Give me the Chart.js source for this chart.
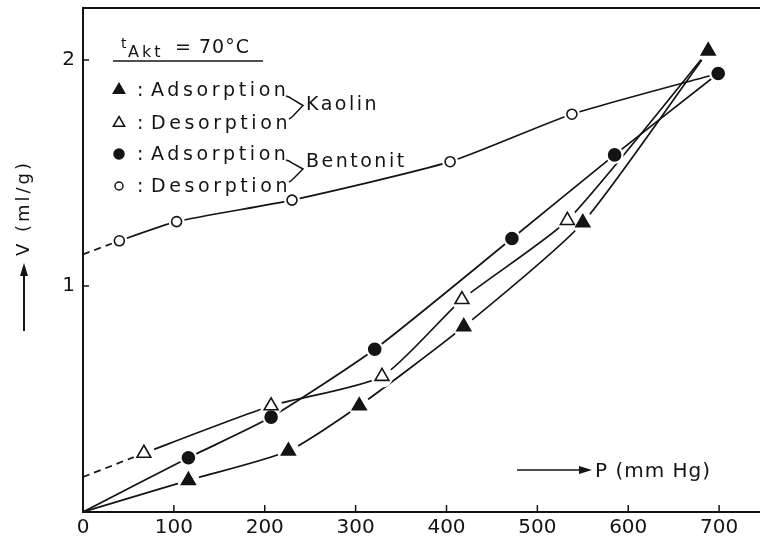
<!DOCTYPE html>
<html>
<head>
<meta charset="utf-8">
<script src="https://cdn.jsdelivr.net/npm/chart.js@4.4.0/dist/chart.umd.min.js"></script>
<style>
    html, body { margin: 0; padding: 0; background: #fff; }
    #wrap { width: 760px; height: 541px; position: relative; }
</style>
</head>
<body>
<div id="wrap"><canvas id="isoChart"></canvas></div>
<script>
// pressure P (mm Hg) and volume V (ml/g)
const kaolinAdsP = [0, 116, 226, 304, 419, 550, 688];
const kaolinAdsV = [0, 0.14, 0.27, 0.47, 0.82, 1.28, 2.04];
const kaolinDesP = [0, 67, 207, 329, 417, 533, 688];
const kaolinDesV = [0.155, 0.26, 0.47, 0.60, 0.94, 1.29, 2.04];
const bentAdsP = [0, 116, 207, 321, 472, 585, 699];
const bentAdsV = [0, 0.24, 0.42, 0.72, 1.21, 1.58, 1.94];
const bentDesP = [0, 40, 103, 230, 404, 538, 699];
const bentDesV = [1.14, 1.20, 1.285, 1.38, 1.55, 1.76, 1.94];

const xTicks = [0, 100, 200, 300, 400, 500, 600, 700];
const yTicks = [1, 2];

const legendRows = ["Adsorption", "Desorption", "Adsorption", "Desorption"];
const groupNames = ["Kaolin", "Bentonit"];

const INK = "#141414";

function pts(P, V) {
    return P.map((p, i) => ({ x: p, y: V[i] }));
}

// which points carry a marker (first point is the axis start, shared end points are drawn once)
function markerRadius(n, r, hideLast) {
    return Array.from({ length: n }, (_, i) => (i === 0 || (hideLast && i === n - 1)) ? 0 : r);
}

const series = [
    { P: kaolinAdsP, V: kaolinAdsV, style: "triangle", r: 8, fill: INK, dashed: false, hideLast: false },
    { P: kaolinDesP, V: kaolinDesV, style: "triangle", r: 8, fill: "#fff", dashed: true, hideLast: true },
    { P: bentAdsP, V: bentAdsV, style: "circle", r: 6, fill: INK, dashed: false, hideLast: false },
    { P: bentDesP, V: bentDesV, style: "circle", r: 5, fill: "#fff", dashed: true, hideLast: true }
];

const datasets = [];
series.forEach(s => {
    const data = pts(s.P, s.V);
    // curve
    datasets.push({
        data: data,
        order: 3,
        showLine: true,
        borderColor: INK,
        borderWidth: 1.7,
        tension: 0.2,
        pointRadius: 0,
        segment: {
            borderDash: ctx => (s.dashed && ctx.p0DataIndex === 0) ? [7, 5] : undefined
        }
    });
    // white gap round each marker
    datasets.push({
        data: data,
        order: 2,
        showLine: false,
        pointStyle: "circle",
        pointRadius: markerRadius(data.length, s.r + 3, s.hideLast),
        pointBackgroundColor: "#fff",
        pointBorderWidth: 0
    });
    // marker
    datasets.push({
        data: data,
        order: 1,
        showLine: false,
        pointStyle: s.style,
        pointRadius: markerRadius(data.length, s.r, s.hideLast),
        pointBackgroundColor: s.fill,
        pointBorderColor: INK,
        pointBorderWidth: 1.6
    });
});

function drawMarker(ctx, style, filled, x, y, r) {
    ctx.save();
    ctx.beginPath();
    if (style === "triangle") {
        ctx.moveTo(x, y - r);
        ctx.lineTo(x + r * 0.87, y + r * 0.5);
        ctx.lineTo(x - r * 0.87, y + r * 0.5);
        ctx.closePath();
    } else {
        ctx.arc(x, y, r, 0, Math.PI * 2);
    }
    ctx.lineWidth = 1.5;
    ctx.strokeStyle = INK;
    ctx.fillStyle = filled ? INK : "#fff";
    ctx.fill();
    ctx.stroke();
    ctx.restore();
}

function noScalePadding(scale) {
    scale.paddingTop = 0;
    scale.paddingBottom = 0;
    scale.paddingLeft = 0;
    scale.paddingRight = 0;
}

const decorations = {
    id: "decorations",
    afterDraw(chart) {
        const ctx = chart.ctx;
        const area = chart.chartArea;
        const xs = chart.scales.x;
        const ys = chart.scales.y;
        ctx.save();
        ctx.strokeStyle = INK;
        ctx.fillStyle = INK;

        // top frame line
        ctx.lineWidth = 2;
        ctx.beginPath();
        ctx.moveTo(area.left, area.top);
        ctx.lineTo(area.right, area.top);
        ctx.stroke();

        // inward tick marks
        ctx.lineWidth = 1.5;
        xTicks.slice(1).forEach(v => {
            const px = xs.getPixelForValue(v);
            ctx.beginPath();
            ctx.moveTo(px, area.bottom);
            ctx.lineTo(px, area.bottom - 7);
            ctx.stroke();
        });
        yTicks.forEach(v => {
            const py = ys.getPixelForValue(v);
            ctx.beginPath();
            ctx.moveTo(area.left, py);
            ctx.lineTo(area.left + 6, py);
            ctx.stroke();
        });

        // y title with arrow
        ctx.save();
        ctx.translate(24, 208);
        ctx.rotate(-Math.PI / 2);
        ctx.font = "18px 'DejaVu Sans'";
        ctx.letterSpacing = "3px";
        ctx.textAlign = "center";
        ctx.textBaseline = "middle";
        ctx.fillText("V (ml/g)", 0, 0);
        ctx.restore();
        ctx.lineWidth = 2;
        ctx.beginPath();
        ctx.moveTo(24, 331);
        ctx.lineTo(24, 272);
        ctx.stroke();
        ctx.beginPath();
        ctx.moveTo(24, 263);
        ctx.lineTo(28, 276);
        ctx.lineTo(20, 276);
        ctx.closePath();
        ctx.fill();

        // x title with arrow
        ctx.lineWidth = 1.6;
        ctx.beginPath();
        ctx.moveTo(517, 470);
        ctx.lineTo(582, 470);
        ctx.stroke();
        ctx.beginPath();
        ctx.moveTo(592, 470);
        ctx.lineTo(579, 466);
        ctx.lineTo(579, 474);
        ctx.closePath();
        ctx.fill();
        ctx.font = "20px 'DejaVu Sans'";
        ctx.letterSpacing = "1px";
        ctx.textAlign = "left";
        ctx.textBaseline = "alphabetic";
        ctx.fillText("P (mm Hg)", 595, 477);

        // legend heading
        ctx.letterSpacing = "1px";
        ctx.font = "14px 'DejaVu Sans'";
        ctx.fillText("t", 121, 48);
        ctx.font = "16px 'DejaVu Sans'";
        ctx.letterSpacing = "3px";
        ctx.fillText("Akt", 128, 57);
        ctx.font = "19px 'DejaVu Sans'";
        ctx.letterSpacing = "1px";
        ctx.fillText("= 70°C", 175, 53);
        ctx.lineWidth = 1.6;
        ctx.beginPath();
        ctx.moveTo(113, 61);
        ctx.lineTo(263, 61);
        ctx.stroke();

        // legend rows
        const rowBase = [96, 129, 160, 192];
        const markers = [["triangle", true], ["triangle", false], ["circle", true], ["circle", false]];
        legendRows.forEach((txt, i) => {
            const m = markers[i];
            drawMarker(ctx, m[0], m[1], 119, rowBase[i] - 6, m[0] === "triangle" ? 6.5 : (m[1] ? 5 : 4));
            ctx.font = "19px 'DejaVu Sans'";
            ctx.letterSpacing = "0px";
            ctx.fillText(":", 137, rowBase[i]);
            ctx.letterSpacing = "3.6px";
            ctx.fillText(txt, 151, rowBase[i]);
        });

        // braces and group names
        const groupBase = [110, 167];
        ctx.lineWidth = 1.5;
        groupNames.forEach((g, i) => {
            const top = rowBase[i * 2];
            const bot = rowBase[i * 2 + 1];
            const mid = (top + bot) / 2 - 7;
            ctx.beginPath();
            ctx.moveTo(286, top);
            ctx.quadraticCurveTo(290, top + 1, 292, top + 3);
            ctx.lineTo(303, mid);
            ctx.lineTo(293, bot - 13);
            ctx.quadraticCurveTo(291, bot - 11, 289, bot - 10);
            ctx.stroke();
            ctx.font = "19px 'DejaVu Sans'";
            ctx.letterSpacing = "2.5px";
            ctx.fillText(g, 306, groupBase[i]);
        });

        ctx.restore();
    }
};

document.addEventListener("DOMContentLoaded", function () {
    const ctx = document.getElementById("isoChart").getContext("2d");
    new Chart(ctx, {
        type: "scatter",
        data: { datasets: datasets },
        options: {
            responsive: true,
            maintainAspectRatio: false,
            animation: false,
            layout: { autoPadding: false, padding: { top: 8, right: 0, bottom: 0, left: 0 } },
            plugins: {
                legend: { display: false },
                tooltip: { enabled: false },
                title: { display: false }
            },
            scales: {
                x: {
                    type: "linear",
                    min: 0,
                    max: 745,
                    afterFit: scale => { scale.height = 29; noScalePadding(scale); },
                    afterBuildTicks: scale => {
                        scale.ticks = xTicks.map(v => ({ value: v }));
                    },
                    grid: { display: false, drawTicks: false },
                    border: { display: true, color: INK, width: 2 },
                    ticks: {
                        padding: 4,
                        color: INK,
                        font: { family: "'DejaVu Sans'", size: 20 },
                        maxRotation: 0,
                        autoSkip: false
                    }
                },
                y: {
                    type: "linear",
                    min: 0,
                    max: 2.23,
                    afterFit: scale => { scale.width = 83; noScalePadding(scale); },
                    afterBuildTicks: scale => {
                        scale.ticks = yTicks.map(v => ({ value: v }));
                    },
                    grid: { display: false, drawTicks: false },
                    border: { display: true, color: INK, width: 2 },
                    ticks: {
                        padding: 8,
                        color: INK,
                        font: { family: "'DejaVu Sans'", size: 20 }
                    }
                }
            }
        },
        plugins: [decorations]
    });
});
</script>
</body>
</html>
